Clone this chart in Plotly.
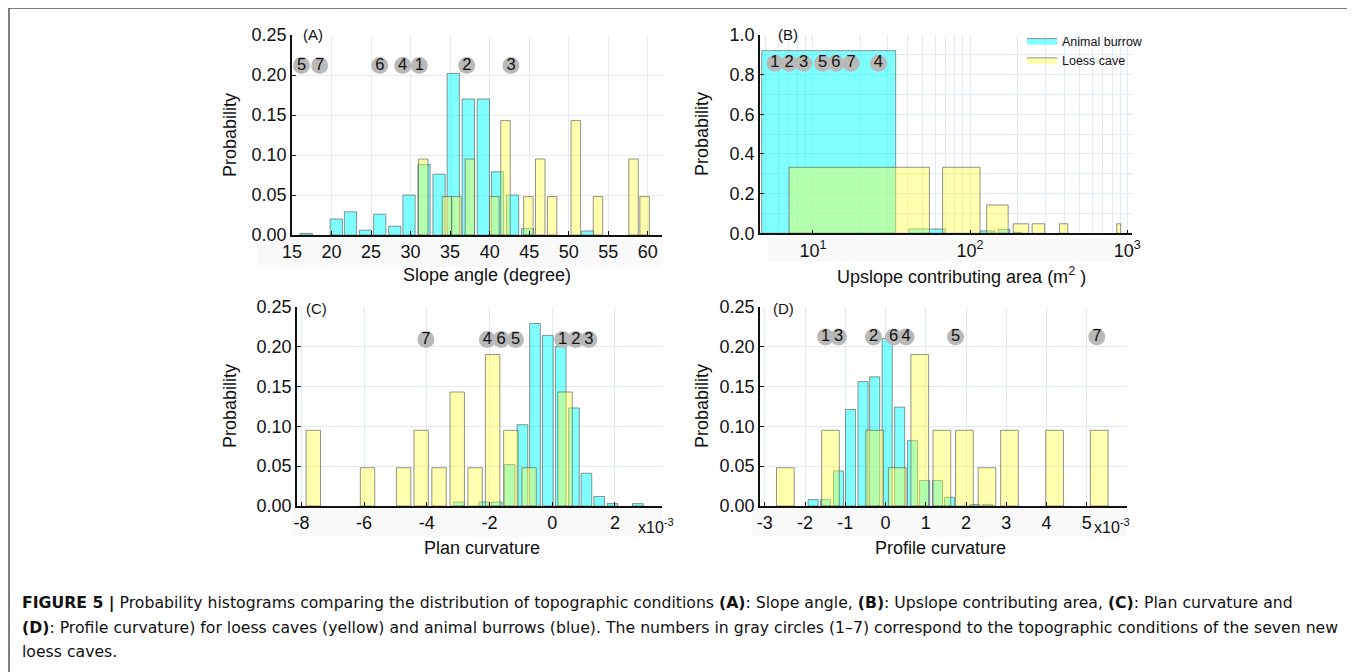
import plotly.graph_objects as go

W, H = 1355, 672
OFF = 8  # page body margin in the browser
FONT = "Liberation Sans, Arial, Helvetica, sans-serif"

# ---------------- DATA ----------------
# (A) Slope angle (degree)
cyan_A_x = [16.8, 20.6, 22.4, 24.3, 26.1, 28.0, 29.8, 31.7, 33.6, 35.4, 37.3, 39.2, 41.0, 42.9, 44.8, 52.4]
cyan_A_y = [0.002, 0.020, 0.029, 0.006, 0.026, 0.011, 0.050, 0.088, 0.076, 0.202, 0.170, 0.170, 0.079, 0.050, 0.008, 0.005]
yellow_A_x = [31.6, 34.6, 35.8, 37.5, 40.6, 42.0, 44.9, 46.4, 47.9, 50.9, 53.7, 58.2, 59.6]
yellow_A_y = [0.095, 0.048, 0.048, 0.095, 0.048, 0.143, 0.048, 0.095, 0.048, 0.143, 0.048, 0.095, 0.048]
labels_A_x = [16.2, 18.5, 26.1, 29.0, 31.1, 37.1, 42.7]
labels_A_t = ["5", "7", "6", "4", "1", "2", "3"]

# (B) Upslope contributing area (m2), bins given by edges
cyan_B_left = [4.72, 40.8, 115.6, 151, 188]
cyan_B_right = [33.6, 69.5, 143.9, 179, 212]
cyan_B_y = [0.921, 0.022, 0.012, 0.020, 0.005]
yellow_B_left = [7.05, 66.8, 127.4, 188, 248, 370, 857]
yellow_B_right = [55.1, 115.6, 174.6, 236, 298, 418, 908]
yellow_B_y = [0.333, 0.333, 0.143, 0.048, 0.048, 0.048, 0.048]
labels_B_x = [5.73, 7.05, 8.73, 11.5, 14.0, 17.5, 26.1]
labels_B_t = ["1", "2", "3", "5", "6", "7", "4"]
ticks_B = [10, 100, 1000]
ticks_B_text = ["10<sup>1</sup>", "10<sup>2</sup>", "10<sup>3</sup>"]

# (C) Plan curvature (x10^-3)
yellow_C_x = [-7.62, -5.89, -4.74, -4.18, -3.61, -3.03, -2.46, -1.90, -1.32, -0.74, 0.41]
yellow_C_y = [0.095, 0.048, 0.048, 0.095, 0.048, 0.143, 0.048, 0.190, 0.095, 0.048, 0.143]
cyan_C_x = [-2.98, -2.17, -1.77, -1.36, -0.95, -0.55, -0.14, 0.27, 0.69, 1.09, 1.50, 1.92, 2.73]
cyan_C_y = [0.005, 0.005, 0.005, 0.052, 0.102, 0.229, 0.214, 0.200, 0.123, 0.041, 0.012, 0.003, 0.003]
labels_C_x = [-4.03, -2.07, -1.63, -1.17, 0.33, 0.75, 1.17]
labels_C_t = ["7", "4", "6", "5", "1", "2", "3"]
ticks_C = [-8, -6, -4, -2, 0, 2]
ticks_C_text = ["-8", "-6", "-4", "-2", "0", "2"]

# (D) Profile curvature (x10^-3)
yellow_D_x = [-2.49, -1.37, -0.27, 0.29, 0.85, 1.40, 1.96, 2.52, 3.08, 4.20, 5.31]
yellow_D_y = [0.048, 0.095, 0.095, 0.048, 0.190, 0.095, 0.095, 0.048, 0.095, 0.095, 0.095]
cyan_D_x = [-1.80, -1.49, -1.17, -0.87, -0.56, -0.27, 0.04, 0.35, 0.67, 0.97, 1.29, 1.59, 2.22, 2.53]
cyan_D_y = [0.008, 0.008, 0.044, 0.121, 0.156, 0.162, 0.210, 0.124, 0.082, 0.032, 0.032, 0.011, 0.002, 0.002]
labels_D_x = [-1.49, -1.17, -0.30, 0.20, 0.51, 1.74, 5.25]
labels_D_t = ["1", "3", "2", "6", "4", "5", "7"]
ticks_D = [-3, -2, -1, 0, 1, 2, 3, 4, 5]
ticks_D_text = ["-3", "-2", "-1", "0", "1", "2", "3", "4", "5"]

label_y_A, label_y_B, label_y_C, label_y_D = 0.212, 0.857, 0.209, 0.212

# ---------------- STYLE ----------------
CYAN = "rgba(0,255,255,0.5)"
YELLOW = "rgba(255,255,60,0.42)"
EDGE = "rgba(90,90,90,0.65)"
CIRCLE = "#b9b9b9"


def fx(px):
    return (px - OFF) / W


def fy(py):
    return 1 - (py - OFF) / H


fig = go.Figure()


def bars(x, y, width, color, xa, ya, name):
    fig.add_trace(go.Bar(x=x, y=y, width=width, marker=dict(color=color, line=dict(color=EDGE, width=1)),
                         xaxis=xa, yaxis=ya, name=name, showlegend=False))


def labels(x, t, yv, xa, ya):
    fig.add_trace(go.Scatter(x=x, y=[yv] * len(x), text=t, mode="markers+text", xaxis=xa, yaxis=ya,
                             marker=dict(size=17, color=CIRCLE), textposition="middle center",
                             textfont=dict(size=16.5, color="#111", family=FONT), showlegend=False,
                             cliponaxis=False))


def rects(left, right, h, color, name, legend):
    xs, ys = [], []
    for l, r, v in zip(left, right, h):
        xs += [l, l, r, r, l, None]
        ys += [0, v, v, 0, 0, None]
    fig.add_trace(go.Scatter(x=xs, y=ys, mode="lines", fill="toself", fillcolor=color,
                             line=dict(color=EDGE, width=1), xaxis="x2", yaxis="y2",
                             name=name, showlegend=legend))


# A
bars(cyan_A_x, cyan_A_y, 1.55, CYAN, "x", "y", "Animal burrow")
bars(yellow_A_x, yellow_A_y, 1.2, YELLOW, "x", "y", "Loess cave")
labels(labels_A_x, labels_A_t, label_y_A, "x", "y")
# B
rects(cyan_B_left, cyan_B_right, cyan_B_y, CYAN, "Animal burrow", True)
rects(yellow_B_left, yellow_B_right, yellow_B_y, YELLOW, "Loess cave", True)
labels(labels_B_x, labels_B_t, label_y_B, "x2", "y2")
# C
bars(cyan_C_x, cyan_C_y, 0.34, CYAN, "x3", "y3", "Animal burrow")
bars(yellow_C_x, yellow_C_y, 0.46, YELLOW, "x3", "y3", "Loess cave")
labels(labels_C_x, labels_C_t, label_y_C, "x3", "y3")
# D
bars(cyan_D_x, cyan_D_y, 0.25, CYAN, "x4", "y4", "Animal burrow")
bars(yellow_D_x, yellow_D_y, 0.44, YELLOW, "x4", "y4", "Loess cave")
labels(labels_D_x, labels_D_t, label_y_D, "x4", "y4")

tickfont = dict(size=18, color="#111", family=FONT)
GRID_A = "#ebebeb"
GRID_B = "#e1eaf6"


def xax(x0, x1, anchor, rng, grid, **kw):
    d = dict(domain=[fx(x0), fx(x1)], anchor=anchor, range=rng, showline=True, linecolor="#111", linewidth=1.5,
             ticks="inside", ticklen=4, tickcolor="#111", tickwidth=1, tickfont=tickfont, automargin=False,
             showgrid=True, gridcolor=grid, gridwidth=1, zeroline=False, fixedrange=True)
    d.update(kw)
    return d


def yax(y0, y1, anchor, rng, grid, **kw):
    d = dict(domain=[fy(y1), fy(y0)], anchor=anchor, range=rng, showline=True, linecolor="#111", linewidth=1.5,
             ticks="inside", ticklen=4, tickcolor="#111", tickwidth=1, tickfont=tickfont, automargin=False,
             showgrid=True, gridcolor=grid, gridwidth=1, zeroline=False, fixedrange=True)
    d.update(kw)
    return d


fig.update_layout(
    width=W, height=H, margin=dict(l=0, r=0, t=0, b=0, pad=0, autoexpand=False),
    paper_bgcolor="white", plot_bgcolor="white",
    barmode="overlay", font=dict(family=FONT, color="#111"),
    xaxis=xax(292, 662, "y", [15, 61.8], GRID_A, tick0=15, dtick=5),
    yaxis=yax(35, 235, "x", [0, 0.25], GRID_A, tick0=0, dtick=0.05, tickformat=".2f"),
    xaxis2=xax(760, 1132, "y2", [0.663, 3.03], GRID_B, type="log", tickvals=ticks_B, ticktext=ticks_B_text,
               minor=dict(showgrid=True, gridcolor=GRID_B, dtick="D1", ticks="")),
    yaxis2=yax(35, 233.3, "x2", [0, 1.0], GRID_B, tick0=0, dtick=0.2, tickformat=".1f",
               minor=dict(showgrid=True, gridcolor=GRID_B, dtick=0.1, ticks="")),
    xaxis3=xax(297, 662, "y3", [-8.14, 3.5], GRID_B, tickvals=ticks_C, ticktext=ticks_C_text),
    yaxis3=yax(306.7, 506, "x3", [0, 0.25], GRID_B, tick0=0, dtick=0.05, tickformat=".2f"),
    xaxis4=xax(760, 1127, "y4", [-3.12, 6.0], GRID_B, tickvals=ticks_D, ticktext=ticks_D_text),
    yaxis4=yax(306.7, 506, "x4", [0, 0.25], GRID_B, tick0=0, dtick=0.05, tickformat=".2f"),
    legend=dict(x=fx(1022), y=fy(26), xanchor="left", yanchor="top", bgcolor="rgba(0,0,0,0)",
                font=dict(size=12.5, family=FONT, color="#111"), itemwidth=30, tracegroupgap=0),
)

ann = []


def text(x, y, s, size, xanchor="center", yanchor="middle", **kw):
    d = dict(x=fx(x), y=fy(y), xref="paper", yref="paper", text=s, showarrow=False,
             xanchor=xanchor, yanchor=yanchor, font=dict(size=size, family=FONT, color="#111"))
    d.update(kw)
    ann.append(d)


# panel letters
text(301, 35, "(A)", 15, xanchor="left")
text(776, 35, "(B)", 15, xanchor="left")
text(304, 308, "(C)", 15, xanchor="left")
text(771, 308, "(D)", 15, xanchor="left")
# axis titles
text(487, 275, "Slope angle (degree)", 18)
text(961, 275, "Upslope contributing area (m<sup>2</sup> )", 18)
text(482, 548, "Plan curvature", 18)
text(940, 548, "Profile curvature", 18)
for px, py in [(230, 135), (702, 134), (230, 406), (702, 406)]:
    text(px, py, "Probability", 18, textangle=-90)
text(656, 526, "x10<sup>-3</sup>", 16)
text(1112, 526, "x10<sup>-3</sup>", 16)
# caption
cap = [
    "<b>FIGURE 5 |</b> Probability histograms comparing the distribution of topographic conditions <b>(A)</b>: Slope angle, "
    "<b>(B)</b>: Upslope contributing area, <b>(C)</b>: Plan curvature and",
    "<b>(D)</b>: Profile curvature) for loess caves (yellow) and animal burrows (blue). The numbers in gray circles (1\u20137) "
    "correspond to the topographic conditions of the seven new",
    "loess caves.",
]
for i, line in enumerate(cap):
    text(20, 603 + 24 * i, line, 15.7, xanchor="left", font=dict(size=15.7, family="DejaVu Sans", color="#111"))

fig.update_layout(annotations=ann)
# faint bands behind the x tick labels
for x0, x1, y0, y1 in [(257, 662, 238, 267), (768, 1132, 238, 262), (292, 663, 509, 537), (752, 1127, 509, 537)]:
    fig.add_shape(type="rect", xref="paper", yref="paper", x0=fx(x0), x1=fx(x1), y0=fy(y1), y1=fy(y0),
                  line=dict(width=0), fillcolor="#f9f9f9", layer="below")
fig.add_shape(type="rect", xref="paper", yref="paper", x0=fx(9), x1=fx(1352), y0=fy(690), y1=fy(8),
              line=dict(color="#555", width=1.5), fillcolor="rgba(0,0,0,0)", layer="below")

fig.write_html("out.html")
